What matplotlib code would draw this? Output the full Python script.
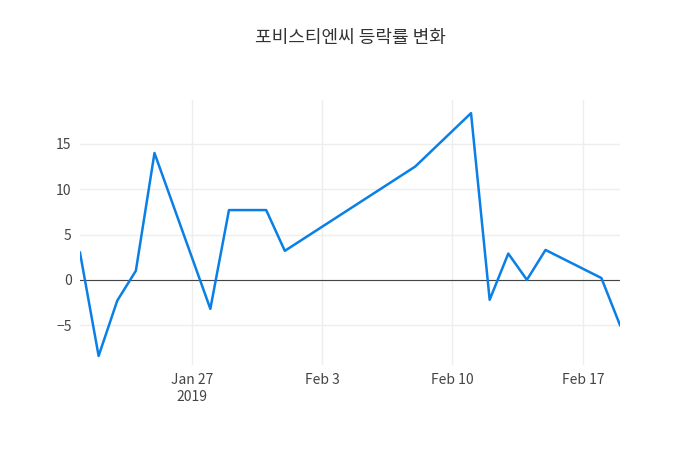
import numpy as np
import pandas as pd
import matplotlib
matplotlib.use('Agg')
import matplotlib.pyplot as plt
import matplotlib.dates as mdates

plt.rcParams['font.family'] = ['Noto Sans CJK KR', 'DejaVu Sans']

dates = pd.to_datetime([
    '2019-01-21', '2019-01-22', '2019-01-23', '2019-01-24', '2019-01-25',
    '2019-01-28', '2019-01-29', '2019-01-31', '2019-02-01', '2019-02-08',
    '2019-02-11', '2019-02-12', '2019-02-13', '2019-02-14', '2019-02-15',
    '2019-02-18', '2019-02-19'])
rates = [3.0, -8.4, -2.3, 1.0, 14.0, -3.2, 7.7, 7.7, 3.2, 12.5,
         18.4, -2.2, 2.9, 0.0, 3.3, 0.2, -5.0]

tick_dates = pd.to_datetime(['2019-01-27', '2019-02-03', '2019-02-10', '2019-02-17'])
tick_labels = ['Jan 27\n2019', 'Feb 3', 'Feb 10', 'Feb 17']
y_ticks = [-5, 0, 5, 10, 15]

fig = plt.figure(figsize=(7, 4.5), dpi=100)
ax = fig.add_axes([80/700, 85/450, 540/700, 265/450])

ax.plot(dates, rates, color='#0a7fe6', lw=1.8, zorder=3)
ax.axhline(0, color='#444444', lw=0.8, zorder=2)

ax.set_xlim(dates[0], dates[-1])
ax.set_ylim(-9.4, 19.85)
ax.set_xticks(tick_dates)
ax.set_xticklabels(tick_labels)
ax.set_yticks(y_ticks)
ax.set_yticklabels(['\u22125', '0', '5', '10', '15'])
ax.grid(True, color='#eeeeee', lw=1, zorder=0)
for s in ax.spines.values():
    s.set_visible(False)
ax.tick_params(length=0, labelsize=10, labelcolor='#444444', pad=6)

fig.suptitle('포비스티엔씨 등락률 변화', x=0.5, y=0.935, fontsize=13,
             color='#333333', fontweight='medium')

fig.savefig('out.png', dpi=100)
